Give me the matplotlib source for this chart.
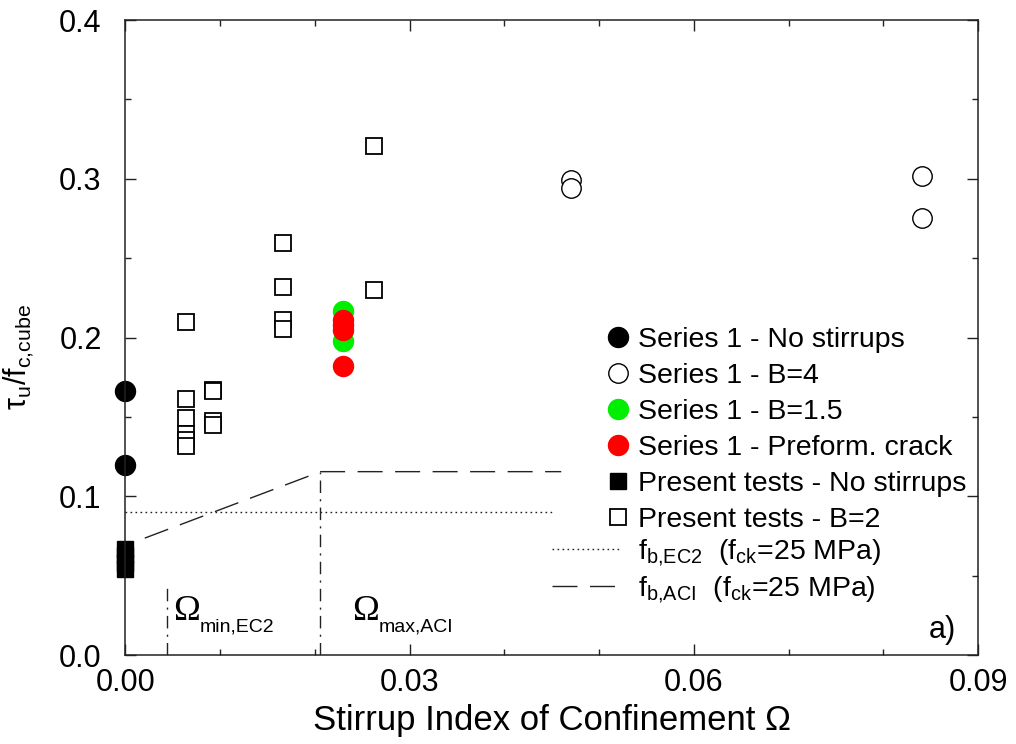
## tau_u / f_c,cube against stirrup index of confinement
import matplotlib
matplotlib.use("Agg")
import matplotlib.pyplot as plt
from matplotlib.lines import Line2D
from matplotlib.ticker import MultipleLocator, FormatStrFormatter

plt.rcParams['font.family'] = ['Liberation Sans', 'DejaVu Sans']
plt.rcParams['mathtext.fontset'] = 'custom'
plt.rcParams['mathtext.rm'] = 'Liberation Sans'
plt.rcParams['mathtext.it'] = 'Liberation Sans:italic'
plt.rcParams['mathtext.bf'] = 'Liberation Sans:bold'

##1. data
s1_nostir_x = [0.0, 0.0]
s1_nostir_y = [0.1665, 0.1195]

s1_b4_x = [0.0470, 0.0470, 0.0841, 0.0841]
s1_b4_y = [0.2992, 0.2941, 0.3017, 0.2752]

s1_b15_x = [0.0230, 0.0230]
s1_b15_y = [0.2168, 0.1979]

s1_crack_x = [0.0230, 0.0230, 0.0230, 0.0230]
s1_crack_y = [0.2109, 0.2080, 0.2050, 0.1821]

pt_nostir_x = [0.0, 0.0, 0.0, 0.0]
pt_nostir_y = [0.067, 0.063, 0.058, 0.054]

pt_b2_x = [0.0064, 0.0064, 0.0064, 0.0064, 0.0064, 0.0064,
           0.0093, 0.0093, 0.0093, 0.0093,
           0.0166, 0.0166, 0.0166, 0.0166,
           0.0262, 0.0262]
pt_b2_y = [0.210, 0.161, 0.1495, 0.139, 0.1353, 0.1315,
           0.167, 0.166, 0.1473, 0.145,
           0.2593, 0.2319, 0.2113, 0.2051,
           0.3208, 0.230]

ec2_x = [0.0, 0.0451]
ec2_y = [0.09, 0.09]
aci_x = [0.0, 0.0206, 0.046]
aci_y = [0.069, 0.1155, 0.1155]
omin_x = [0.0044, 0.0044]
omin_y = [0.0, 0.044]
omax_x = [0.0206, 0.0206]
omax_y = [0.0, 0.1155]

##2. figure
fig = plt.figure(figsize=(10.16, 7.44), dpi=100)
ax = fig.add_axes([0.1233, 0.1196, 0.8395, 0.8535])

line_col = '#222222'
dashdot = (0, (9, 4.5, 1.5, 4.5))
ax.plot(ec2_x, ec2_y, color=line_col, lw=1, linestyle=(0, (1.2, 2.4)))
ax.plot(aci_x, aci_y, color=line_col, lw=1, linestyle=(12, (18, 9)))
ax.plot(omin_x, omin_y, color=line_col, lw=1, linestyle=dashdot)
ax.plot(omax_x, omax_y, color=line_col, lw=1, linestyle=dashdot)

ax.plot(pt_b2_x, pt_b2_y, 's', ms=11.5, mfc='white', mec='black', mew=1.3, ls='none', clip_on=False)
ax.plot(pt_nostir_x, pt_nostir_y, 's', ms=12, color='black', ls='none', clip_on=False)
ax.plot(s1_nostir_x, s1_nostir_y, 'o', ms=14.4, color='black', ls='none', clip_on=False)
ax.plot(s1_b4_x, s1_b4_y, 'o', ms=14, mfc='white', mec='black', mew=1, ls='none', clip_on=False)
ax.plot(s1_b15_x, s1_b15_y, 'o', ms=14.4, color='#00ee00', ls='none', clip_on=False)
ax.plot(s1_crack_x, s1_crack_y, 'o', ms=14.4, color='#ff0000', ls='none', clip_on=False)

##3. axes
ax.set_xlim(0.0, 0.09)
ax.set_ylim(0.0, 0.4)
ax.xaxis.set_major_locator(MultipleLocator(0.03))
ax.xaxis.set_minor_locator(MultipleLocator(0.01))
ax.yaxis.set_major_locator(MultipleLocator(0.1))
ax.yaxis.set_minor_locator(MultipleLocator(0.05))
ax.xaxis.set_major_formatter(FormatStrFormatter('%.2f'))
ax.yaxis.set_major_formatter(FormatStrFormatter('%.1f'))
ax.tick_params(which='both', direction='in', top=True, right=True, width=1, color='#222222')
ax.tick_params(which='major', length=8, labelsize=22)
ax.tick_params(which='minor', length=4)
ax.tick_params(axis='x', pad=9)
ax.tick_params(axis='y', pad=17)
for sp in ax.spines.values():
    sp.set_linewidth(1.1)
    sp.set_color('#222222')

ax.set_xlabel('Stirrup Index of Confinement \u03a9', fontsize=25, labelpad=5)
ax.set_ylabel(r'$\mathrm{\tau}_{\mathrm{u}}$/f$_{\mathrm{c{,}cube}}$', fontsize=22)
ax.yaxis.set_label_coords(-0.105, 0.47)

ax.text(0.0051, 0.0219, '\u03a9', family='Liberation Serif', fontsize=26)
ax.text(0.0079, 0.0145, 'min,EC2', fontsize=14)
ax.text(0.0239, 0.0219, '\u03a9', family='Liberation Serif', fontsize=26)
ax.text(0.0267, 0.0145, 'max,ACI', fontsize=14)
ax.text(0.0862, 0.011, 'a)', fontsize=22, ha='center')

##4. legends
mk_handles = [
    Line2D([], [], marker='o', ls='none', ms=14.4, color='black'),
    Line2D([], [], marker='o', ls='none', ms=14, mfc='white', mec='black', mew=1),
    Line2D([], [], marker='o', ls='none', ms=14.4, color='#00ee00'),
    Line2D([], [], marker='o', ls='none', ms=14.4, color='#ff0000'),
    Line2D([], [], marker='s', ls='none', ms=12, color='black'),
    Line2D([], [], marker='s', ls='none', ms=11.5, mfc='white', mec='black', mew=1.3),
]
mk_labels = ['Series 1 - No stirrups', 'Series 1 - B=4', 'Series 1 - B=1.5',
             'Series 1 - Preform. crack', 'Present tests - No stirrups',
             'Present tests - B=2']
leg1 = ax.legend(mk_handles, mk_labels, loc='upper left', bbox_to_anchor=(0.564, 0.517),
                 frameon=False, fontsize=20.5, handlelength=0.8, handletextpad=0.3,
                 labelspacing=0.35, borderpad=0, borderaxespad=0)
ax.add_artist(leg1)

ln_handles = [
    Line2D([], [], color=line_col, lw=1, linestyle=(0, (1.2, 2.4))),
    Line2D([], [], color=line_col, lw=1, linestyle=(0, (18, 9))),
]
ln_labels = [r'f$_{\mathrm{b{,}EC2}}$  (f$_{\mathrm{ck}}$=25 MPa)',
             r'f$_{\mathrm{b{,}ACI}}$  (f$_{\mathrm{ck}}$=25 MPa)']
ax.legend(ln_handles, ln_labels, loc='upper left', bbox_to_anchor=(0.5006, 0.1855),
          frameon=False, fontsize=20.5, handlelength=2.39, handletextpad=0.63,
          labelspacing=0.23, borderpad=0, borderaxespad=0)

fig.savefig('out.png', dpi=100)
